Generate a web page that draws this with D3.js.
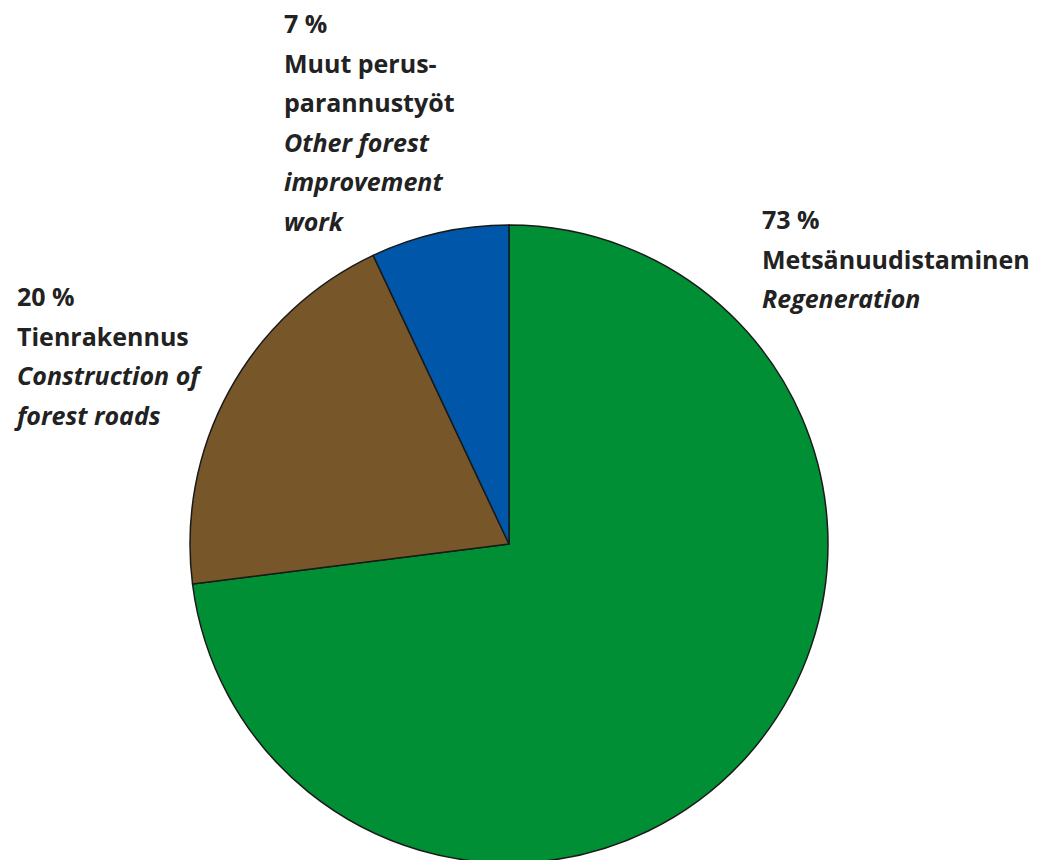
<!DOCTYPE html>
<html lang="fi">
<head>
  <meta charset="UTF-8" />
  <title>Pie</title>
  <script src="https://d3js.org/d3.v7.min.js"></script>
  <style>
    body { margin: 0; background: #fff; }
    svg { display: block; }
    .lbl { font-family: "Open Sans", sans-serif; font-size: 25px; font-weight: 700; fill: #222; }
    .it { font-style: italic; }
  </style>
</head>
<body>
  <svg width="1040" height="860"></svg>
  <script>
    const shares = [73, 20, 7];
    const colors = ["#008f35", "#77572a", "#0056a8"];
    const pctLabels = ["73 %", "20 %", "7 %"];
    const fiLabels = [["Metsänuudistaminen"], ["Tienrakennus"], ["Muut perus-", "parannustyöt"]];
    const enLabels = [["Regeneration"], ["Construction of", "forest roads"], ["Other forest", "improvement", "work"]];
    const labelPos = [[762, 229], [17, 306], [284, 33]];

    const svg = d3.select("svg");
    const cx = 509, cy = 544, r = 319;
    const g = svg.append("g").attr("transform", `translate(${cx},${cy})`);

    const pie = d3.pie().sort(null).value(d => d);
    const arc = d3.arc().innerRadius(0).outerRadius(r);

    g.selectAll("path")
      .data(pie(shares))
      .enter()
      .append("path")
      .attr("d", arc)
      .attr("fill", (d, i) => colors[i])
      .attr("stroke", "#1a1a1a")
      .attr("stroke-width", 1.5)
      .attr("stroke-linejoin", "round");

    const lineH = 39.5;
    shares.forEach((s, i) => {
      const lines = [{ t: pctLabels[i], it: false }]
        .concat(fiLabels[i].map(t => ({ t, it: false })))
        .concat(enLabels[i].map(t => ({ t, it: true })));
      const t = svg.append("text")
        .attr("class", "lbl")
        .attr("x", labelPos[i][0])
        .attr("y", labelPos[i][1]);
      lines.forEach((l, j) => {
        t.append("tspan")
          .attr("x", labelPos[i][0])
          .attr("dy", j === 0 ? 0 : lineH)
          .attr("class", l.it ? "it" : null)
          .text(l.t);
      });
    });
  </script>
</body>
</html>
